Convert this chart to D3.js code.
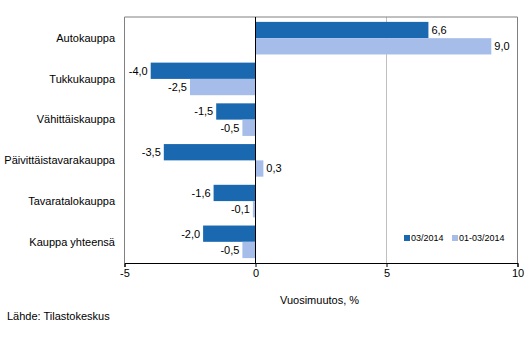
<!DOCTYPE html>
<html><head><meta charset="utf-8">
<script src="https://cdn.jsdelivr.net/npm/d3@7"></script>
<style>body{margin:0;background:#fff}text{font-family:"Liberation Sans",Arial,sans-serif}</style>
</head><body><svg id="c" width="532" height="358"></svg>
<script>
const categories = ["Autokauppa","Tukkukauppa","Vähittäiskauppa","Päivittäistavarakauppa","Tavaratalokauppa","Kauppa yhteensä"];
const seriesNames = ["03/2014","01-03/2014"];
const march = [6.6,-4.0,-1.5,-3.5,-1.6,-2.0];
const janMar = [9.0,-2.5,-0.5,0.3,-0.1,-0.5];
const ticks = [-5,0,5,10];
const colors = ["#1a68b0","#a6bde9"];

const svg = d3.select("#c");
const L=124.5, R=517.5, T=17, B=263;
const x = d3.scaleLinear().domain([-5,10]).range([L,R]);
const y = d3.scaleBand().domain(categories).range([T,B]).paddingInner(0.2).paddingOuter(0.12);
const sub = d3.scaleBand().domain([0,1]).range([0,y.bandwidth()]);
const fmt = v => d3.format(".1f")(v).replace(".",",").replace("−","-");

svg.append("line").attr("x1",x(5)).attr("x2",x(5)).attr("y1",T).attr("y2",B).attr("stroke","#c0c0c0");
svg.append("path").attr("d",`M${L},${B}V${T}H${R}V${B}`).attr("fill","none").attr("stroke","#808080");

const data = [march, janMar];
data.forEach((s,si)=>{
  const g = svg.append("g");
  g.selectAll("rect").data(s).join("rect")
    .attr("x",d=>x(Math.min(0,d))).attr("width",d=>Math.abs(x(d)-x(0)))
    .attr("y",(d,i)=>y(categories[i])+sub(si)).attr("height",sub.bandwidth())
    .attr("fill",colors[si]);
  g.selectAll("text").data(s).join("text")
    .attr("x",d=>d<0? x(d)-3 : x(d)+3)
    .attr("text-anchor",d=>d<0?"end":"start")
    .attr("y",(d,i)=>y(categories[i])+sub(si)+sub.bandwidth()/2).attr("dy","0.35em")
    .attr("font-size",11).attr("fill","#000").text(fmt);
});

svg.append("line").attr("x1",x(0)).attr("x2",x(0)).attr("y1",T).attr("y2",B).attr("stroke","#000");

svg.append("g").selectAll("text").data(categories).join("text")
  .attr("x",115).attr("y",d=>y(d)+y.bandwidth()/2).attr("dy","0.35em")
  .attr("text-anchor","end").attr("font-size",11).text(d=>d);

const ax = svg.append("g").attr("transform",`translate(0,${B})`)
  .call(d3.axisBottom(x).tickValues(ticks).tickSize(4).tickPadding(2).tickFormat(d=>d));
ax.select(".domain").attr("stroke","#000");
ax.selectAll(".tick line").attr("stroke","#000");
ax.selectAll("text").attr("font-size",11).attr("fill","#000").style("font-family","'Liberation Sans',Arial,sans-serif");

svg.append("text").attr("x",280).attr("y",300).attr("dy","0.35em").attr("font-size",11).text("Vuosimuutos, %");
svg.append("text").attr("x",7).attr("y",316).attr("dy","0.35em").attr("font-size",11).text("Lähde: Tilastokeskus");

const lx=[404,452];
seriesNames.forEach((n,i)=>{
  svg.append("rect").attr("x",lx[i]).attr("y",235).attr("width",6).attr("height",6).attr("fill",colors[i]);
  svg.append("text").attr("x",lx[i]+7).attr("y",238).attr("dy","0.35em").attr("font-size",9).text(n);
});
</script></body></html>
